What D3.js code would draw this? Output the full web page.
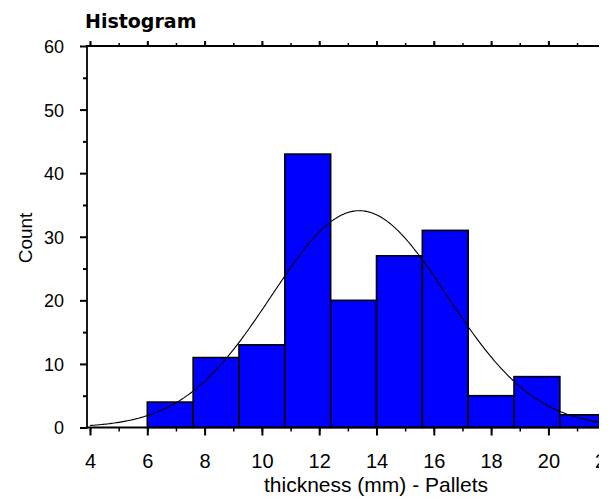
<!DOCTYPE html>
<html>
<head>
<meta charset="utf-8">
<script src="https://cdn.jsdelivr.net/npm/d3@7"></script>
<style>
  html, body { margin: 0; padding: 0; background: #fff; }
  svg { display: block; }
  text { font-family: "Liberation Sans", Arial, sans-serif; fill: #000; }
</style>
</head>
<body>
<svg id="chart" width="614" height="499"></svg>
<script>
// ---- data ----
const binStarts = [6.0, 7.6, 9.2, 10.8, 12.4, 14.0, 15.6, 17.2, 18.8, 20.4];
const binWidth = 1.6;
const counts = [4, 11, 13, 43, 20, 27, 31, 5, 8, 2];
const xTickValues = [4, 6, 8, 10, 12, 14, 16, 18, 20, 22];
const xMinorTicks = [4, 5, 6, 7, 8, 9, 10, 11, 12, 13, 14, 15, 16, 17, 18, 19, 20, 21, 22];
const yTickValues = [0, 10, 20, 30, 40, 50, 60];
const yMinorTicks = [5, 15, 25, 35, 45, 55];
// fitted normal distribution parameters
const fitMean = 13.4;
const fitSD = 3.07;
const titleText = "Histogram";
const xTitle = "thickness (mm) - Pallets";
const yTitle = "Count";

// ---- layout ----
const svg = d3.select("#chart");
const plot = { left: 87, right: 599, top: 46, bottom: 427.5 };

const x = d3.scaleLinear().domain([4, 20]).range([90, 548.4]);
const y = d3.scaleLinear().domain([0, 60]).range([plot.bottom, plot.top]);

svg.append("defs").append("clipPath").attr("id", "pageclip")
  .append("rect").attr("x", 0).attr("y", 0).attr("width", plot.right).attr("height", 499);
svg.append("defs").append("clipPath").attr("id", "plotclip")
  .append("rect").attr("x", plot.left).attr("y", plot.top - 2)
  .attr("width", plot.right - plot.left).attr("height", plot.bottom - plot.top + 4);

const root = svg.append("g").attr("clip-path", "url(#pageclip)");

// bars
const bars = root.append("g").attr("clip-path", "url(#plotclip)");
bars.selectAll("rect").data(binStarts).join("rect")
  .attr("x", d => x(d))
  .attr("y", (d, i) => y(counts[i]))
  .attr("width", d => x(d + binWidth) - x(d))
  .attr("height", (d, i) => y(0) - y(counts[i]))
  .attr("fill", "#0000ff")
  .attr("stroke", "#000")
  .attr("stroke-width", 1.6);

// fitted normal curve scaled to counts
const N = d3.sum(counts);
const curveXs = d3.range(4, 22.01, 0.05);
const normal = v => N * binWidth * Math.exp(-0.5 * ((v - fitMean) / fitSD) ** 2) / (fitSD * Math.sqrt(2 * Math.PI));
bars.append("path")
  .datum(curveXs)
  .attr("fill", "none")
  .attr("stroke", "#000")
  .attr("stroke-width", 1.1)
  .attr("d", d3.line().x(d => x(d)).y(d => y(normal(d))));

// bottom axis: minor ticks
root.append("g").attr("transform", `translate(0,${plot.bottom})`)
  .call(d3.axisBottom(x).tickValues(xMinorTicks).tickSize(4).tickSizeOuter(0).tickFormat(""))
  .call(g => g.select(".domain").remove())
  .call(g => g.selectAll("line").attr("stroke-width", 1.5));
// bottom axis: major ticks + labels
const bx = root.append("g").attr("transform", `translate(0,${plot.bottom})`)
  .call(d3.axisBottom(x).tickValues(xTickValues).tickSize(8).tickSizeOuter(0).tickPadding(0).tickFormat(d3.format("d")))
  .call(g => g.select(".domain").remove())
  .call(g => g.selectAll("line").attr("stroke-width", 2));
bx.selectAll("text").attr("dy", null).attr("y", 40.5)
  .style("font-size", "20px").style("font-family", '"Liberation Sans", Arial, sans-serif').attr("fill", "#000");

// top axis ticks (outward)
root.append("g").attr("transform", `translate(0,${plot.top})`)
  .call(d3.axisTop(x).tickValues(xMinorTicks).tickSize(3).tickSizeOuter(0).tickFormat(""))
  .call(g => g.select(".domain").remove())
  .call(g => g.selectAll("line").attr("stroke-width", 1.5));
root.append("g").attr("transform", `translate(0,${plot.top})`)
  .call(d3.axisTop(x).tickValues(xTickValues).tickSize(5).tickSizeOuter(0).tickFormat(""))
  .call(g => g.select(".domain").remove())
  .call(g => g.selectAll("line").attr("stroke-width", 2));

// left axis minor ticks
root.append("g").attr("transform", `translate(${plot.left},0)`)
  .call(d3.axisLeft(y).tickValues(yMinorTicks).tickSize(4).tickSizeOuter(0).tickFormat(""))
  .call(g => g.select(".domain").remove())
  .call(g => g.selectAll("line").attr("stroke-width", 2));
// left axis major ticks + labels
const ly = root.append("g").attr("transform", `translate(${plot.left},0)`)
  .call(d3.axisLeft(y).tickValues(yTickValues).tickSize(7).tickSizeOuter(0).tickPadding(16).tickFormat(d3.format("d")))
  .call(g => g.select(".domain").remove())
  .call(g => g.selectAll("line").attr("stroke-width", 2));
ly.selectAll("text").attr("dy", "0.36em")
  .style("font-size", "18px").style("font-family", '"Liberation Sans", Arial, sans-serif').attr("fill", "#000");

// frame lines: left, top, bottom
root.append("line").attr("x1", plot.left).attr("x2", plot.left).attr("y1", plot.top - 1).attr("y2", plot.bottom + 1)
  .attr("stroke", "#000").attr("stroke-width", 1.8);
root.append("line").attr("x1", plot.left).attr("x2", plot.right).attr("y1", plot.top).attr("y2", plot.top)
  .attr("stroke", "#000").attr("stroke-width", 2.2);
root.append("line").attr("x1", plot.left).attr("x2", plot.right).attr("y1", plot.bottom).attr("y2", plot.bottom)
  .attr("stroke", "#000").attr("stroke-width", 1.8);

// title
root.append("text").attr("x", 85).attr("y", 28)
  .style("font-family", '"DejaVu Sans", sans-serif').style("font-weight", "bold").style("font-size", "19px")
  .text(titleText);

// x axis title
root.append("text").attr("x", 376).attr("y", 492).attr("text-anchor", "middle")
  .style("font-size", "21px").text(xTitle);

// y axis title
root.append("text").attr("transform", "translate(32,238) rotate(-90)").attr("text-anchor", "middle")
  .style("font-size", "19px").text(yTitle);
</script>
</body>
</html>
